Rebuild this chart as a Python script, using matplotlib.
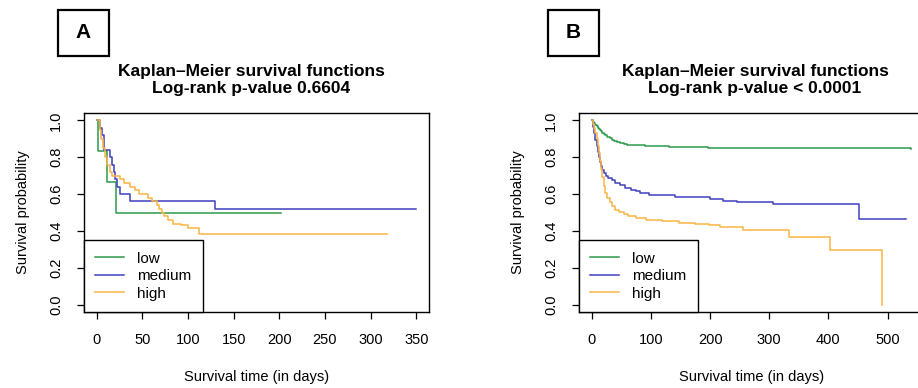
import matplotlib
matplotlib.use("Agg")
import matplotlib.pyplot as plt
from matplotlib.patches import Rectangle

plt.rcParams["font.family"] = ["Liberation Sans", "DejaVu Sans"]

# Panel A - Kaplan-Meier curves (step data)
a_low_t = [0, 1, 11, 21, 202]
a_low_s = [1.0, 0.833, 0.667, 0.5, 0.5]

a_med_t = [0, 3, 6, 8, 14, 17, 19, 20, 22, 25, 36, 129, 350]
a_med_s = [1.0, 0.96, 0.92, 0.84, 0.80, 0.76, 0.72, 0.68, 0.64, 0.60, 0.56, 0.52, 0.52]

a_high_t = [0, 3, 5, 7, 9, 11, 14, 17, 25, 30, 36, 42, 46, 56, 60, 66, 68,
            71, 74, 78, 84, 92, 100, 112, 318]
a_high_s = [1.0, 0.95, 0.90, 0.85, 0.80, 0.76, 0.72, 0.70, 0.68, 0.66, 0.64,
            0.62, 0.60, 0.58, 0.56, 0.54, 0.52, 0.50, 0.48, 0.46, 0.44, 0.43,
            0.415, 0.385, 0.385]

# Panel B
b_low_t = [0, 2, 4, 6, 8, 10, 12, 14, 16, 18, 20, 23, 26, 30, 34, 38, 43,
           48, 54, 60, 70, 80, 90, 110, 130, 145, 160, 196, 540]
b_low_s = [1.0, 0.992, 0.984, 0.976, 0.968, 0.96, 0.954, 0.947, 0.94, 0.933,
           0.926, 0.918, 0.91, 0.902, 0.896, 0.89, 0.884, 0.879, 0.874, 0.869,
           0.866, 0.864, 0.862, 0.86, 0.858, 0.855, 0.853, 0.849, 0.847]

b_med_t = [0, 2, 4, 6, 8, 10, 12, 14, 16, 18, 20, 24, 28, 34, 40, 48, 57,
           66, 74, 82, 97, 140, 200, 221, 245, 306, 452, 531]
b_med_s = [1.0, 0.965, 0.93, 0.895, 0.86, 0.83, 0.80, 0.775, 0.75, 0.73,
           0.716, 0.70, 0.688, 0.674, 0.661, 0.647, 0.634, 0.624, 0.616,
           0.606, 0.596, 0.586, 0.574, 0.561, 0.556, 0.546, 0.464, 0.464]

b_high_t = [0, 2, 4, 6, 8, 10, 12, 14, 16, 18, 20, 23, 26, 30, 34, 40, 46,
            54, 62, 75, 91, 118, 147, 175, 199, 216, 255, 333, 402, 490]
b_high_s = [1.0, 0.98, 0.956, 0.934, 0.9, 0.86, 0.825, 0.78, 0.734, 0.69,
            0.643, 0.605, 0.579, 0.555, 0.534, 0.515, 0.501, 0.49, 0.479,
            0.47, 0.461, 0.452, 0.443, 0.437, 0.432, 0.424, 0.406, 0.366,
            0.297, 0.0]

groups = ["low", "medium", "high"]
colors = ["#2e9a4c", "#4040c0", "#fbb444"]

panels = [
    ("A", "Kaplan\u2013Meier survival functions\nLog-rank p-value 0.6604",
     [(a_low_t, a_low_s), (a_med_t, a_med_s), (a_high_t, a_high_s)],
     350, list(range(0, 351, 50))),
    ("B", "Kaplan\u2013Meier survival functions\nLog-rank p-value < 0.0001",
     [(b_low_t, b_low_s), (b_med_t, b_med_s), (b_high_t, b_high_s)],
     540, list(range(0, 501, 100))),
]

fig = plt.figure(figsize=(9.18, 3.88), dpi=100)
W, H = 918, 388

ax_left = [84, 579]
title_x = [251, 755]
box_x = [58, 548]

for i, (letter, title, curves, tmax, xt) in enumerate(panels):
    ax = fig.add_axes([ax_left[i] / W, 1 - 312 / H, 345 / W, 199 / H])
    for (t, s), c, g in zip(curves, colors, groups):
        ax.plot(t, s, drawstyle="steps-post", color=c, lw=1.1, label=g)
    ax.set_xlim(-0.04 * tmax, 1.04 * tmax)
    ax.set_ylim(-0.04, 1.04)
    ax.set_xticks(xt)
    ax.set_yticks([0, 0.2, 0.4, 0.6, 0.8, 1.0])
    ax.set_yticklabels(["0.0", "0.2", "0.4", "0.6", "0.8", "1.0"],
                       rotation=90, va="center")
    ax.tick_params(length=5, width=0.9, labelsize=10.5, pad=10)
    for sp in ax.spines.values():
        sp.set_linewidth(1.0)
    ax.set_xlabel("Survival time (in days)", fontsize=10.5, labelpad=17)
    ax.set_ylabel("Survival probability", fontsize=10.5, labelpad=14)

    leg = ax.legend(loc="lower left", bbox_to_anchor=(0, 0), borderaxespad=0,
                    fontsize=11, fancybox=False, edgecolor="black",
                    framealpha=1, handlelength=1.9, handletextpad=0.85,
                    labelspacing=0.22, borderpad=0.75)
    leg.get_frame().set_linewidth(1.0)

    fig.text(title_x[i] / W, 1 - 80 / H, title, ha="center", va="center",
             fontsize=12.5, fontweight="bold", linespacing=1.15)

    fig.patches.append(Rectangle((box_x[i] / W, 1 - 56 / H), 51 / W, 46 / H,
                                 transform=fig.transFigure, fill=False,
                                 edgecolor="black", lw=1.6))
    fig.text((box_x[i] + 25.5) / W, 1 - 33 / H, letter, ha="center",
             va="center", fontsize=15, fontweight="bold")

fig.savefig("out.png", dpi=100)
